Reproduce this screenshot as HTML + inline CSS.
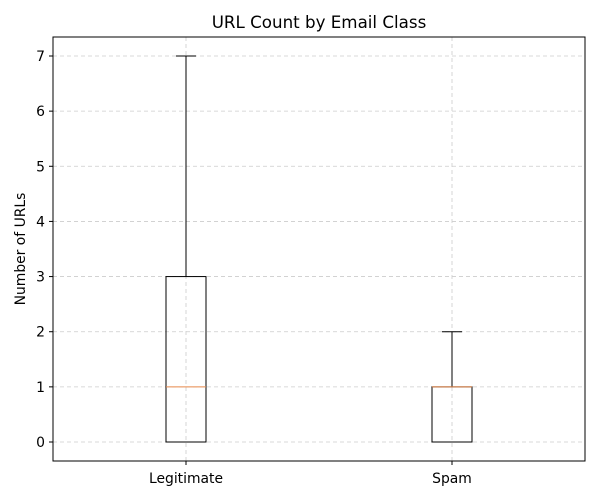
<!DOCTYPE html>
<html><head><meta charset="utf-8"><style>
body{margin:0;background:#fff;font-family:"DejaVu Sans","Liberation Sans",sans-serif;}
svg text{font-family:"DejaVu Sans","Liberation Sans",sans-serif;}
</style></head><body>
<svg id="chart" width="600" height="500">
<text x="319" y="28" text-anchor="middle" font-size="16.7" fill="#000">URL Count by Email Class</text>
<text transform="translate(25,249) rotate(-90)" text-anchor="middle" font-size="13.9" fill="#000">Number of URLs</text>
<g id="grid"></g><g id="boxes"></g><g id="axes"></g>
<rect x="53" y="37" width="532" height="424" fill="none" stroke="#000" stroke-width="1"/>
</svg>
<script>
const categories = ["Legitimate", "Spam"];
const mins = [0, 0];
const q1s = [0, 0];
const medians = [1, 1];
const q3s = [3, 1];
const maxs = [7, 2];
const yTicks = [0, 1, 2, 3, 4, 5, 6, 7];

const NS = "http://www.w3.org/2000/svg";
const L = 53, R = 585, T = 37, B = 461;
function y(v){ return 442 - v * (442 - 56) / 7; }
function x(i){ return 186 + i * 266; }
function mk(tag, attrs, parent){
  const e = document.createElementNS(NS, tag);
  for (const k in attrs) e.setAttribute(k, attrs[k]);
  parent.appendChild(e);
  return e;
}
const grid = document.getElementById("grid"), boxes = document.getElementById("boxes"), axes = document.getElementById("axes");
yTicks.forEach(t => {
  const g = mk("line", {x1:L, x2:R, y1:y(t), y2:y(t), stroke:"#ccc", "stroke-dasharray":"4,3", "stroke-width":0.8}, grid);
  
  
  const tk = mk("line", {x1:L-4, x2:L, y1:y(t), y2:y(t), stroke:"#000"}, axes);
  
  
  const tx = mk("text", {x:L-8, y:y(t)+5, "text-anchor":"end", "font-size":13.9}, axes);
  tx.textContent = t;
  
  
});
categories.forEach((c, i) => {
  const cx = x(i);
  const vg = mk("line", {x1:cx, x2:cx, y1:T, y2:B, stroke:"#ccc", "stroke-dasharray":"4,3", "stroke-width":0.8}, grid);
  
  
  const g = mk("g", {}, boxes);
  
  
  mk("line", {x1:cx, x2:cx, y1:y(q3s[i]), y2:y(maxs[i]), stroke:"#000"}, g);
  mk("line", {x1:cx, x2:cx, y1:y(q1s[i]), y2:y(mins[i]), stroke:"#000"}, g);
  mk("line", {x1:cx-10, x2:cx+10, y1:y(maxs[i]), y2:y(maxs[i]), stroke:"#000"}, g);
  mk("line", {x1:cx-10, x2:cx+10, y1:y(mins[i]), y2:y(mins[i]), stroke:"#000"}, g);
  mk("rect", {x:cx-20, y:y(q3s[i]), width:40, height:Math.max(0, y(q1s[i]) - y(q3s[i])), fill:"none", stroke:"#000"}, g);
  mk("line", {x1:cx-20, x2:cx+20, y1:y(medians[i]), y2:y(medians[i]), stroke:"#e8894a"}, g);
  const tk = mk("line", {x1:cx, x2:cx, y1:B, y2:B+4, stroke:"#000"}, axes);
  
  
  const tx = mk("text", {x:cx, y:B+22, "text-anchor":"middle", "font-size":13.9}, axes);
  tx.textContent = c;
  
  
});
</script>
</body></html>
